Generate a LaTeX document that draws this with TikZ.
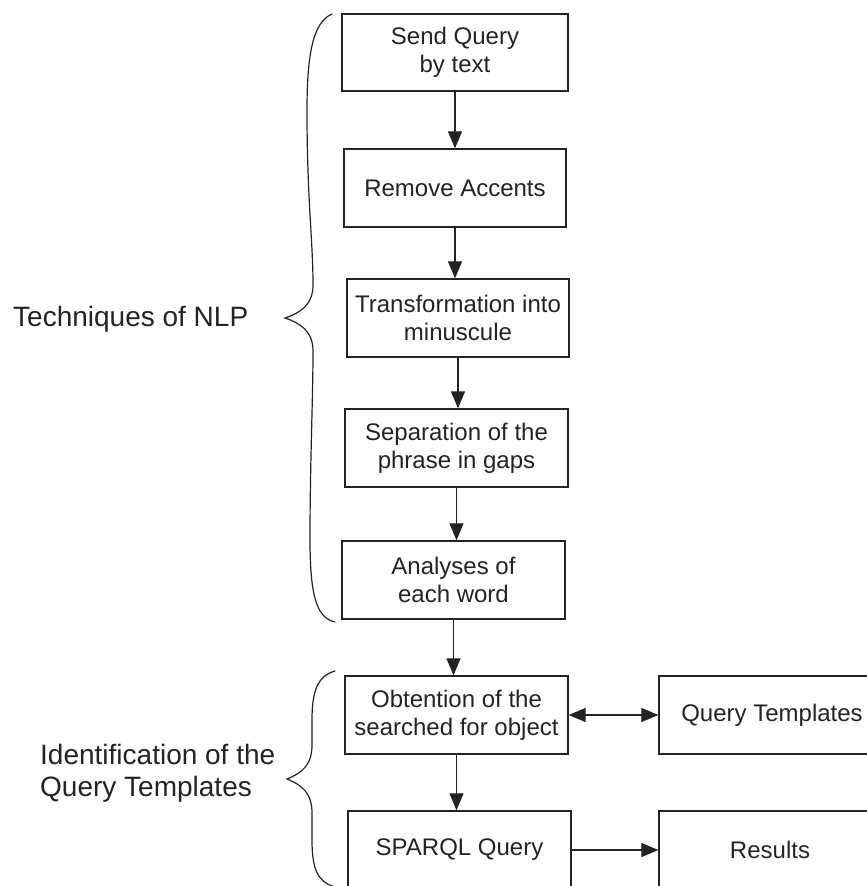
\documentclass[tikz,border=0pt]{standalone}
\usepackage{fontspec}
\setmainfont{Liberation Sans}
\usetikzlibrary{arrows.meta}
\definecolor{ink}{RGB}{35,35,35}
\begin{document}
\begin{tikzpicture}[x=1pt,y=-1pt,
  stepbox/.style={draw=ink, line width=1.3pt, text=ink, align=center,
    minimum width=223pt, minimum height=78pt, inner sep=0pt,
    font=\fontsize{24}{28}\selectfont},
  sidelabel/.style={text=ink, inner sep=0pt, font=\fontsize{28}{32}\selectfont},
  flow/.style={draw=ink, line width=1.2pt, -{Triangle[length=17pt,width=14pt]}},
  twoway/.style={draw=ink, line width=1.2pt,
    {Triangle[length=17pt,width=14pt]}-{Triangle[length=17pt,width=14pt]}},
  bracket/.style={draw=ink, line width=1.2pt, line cap=round}]
\clip (0,0) rectangle (867,886);

% processing chain
\node[stepbox, minimum width=226pt, minimum height=77pt] (send) at (455,52.5) {Send Query\\by text};
\node[stepbox, minimum width=222pt] (accents) at (455,188) {Remove Accents};
\node[stepbox, minimum width=222pt] (lower) at (458,318) {Transformation into\\minuscule};
\node[stepbox] (split) at (456.5,448) {Separation of the\\phrase in gaps};
\node[stepbox] (words) at (453.5,580) {Analyses of\\each word};
\node[stepbox] (object) at (456.5,715) {Obtention of the\\searched for object};
\node[stepbox] (sparql) at (459.5,850) {SPARQL Query};
\node[stepbox, minimum width=226pt] (templates) at (772,715) {Query Templates};
\node[stepbox, minimum width=222pt] (results) at (770,850) {Results};

% connectors
\draw[flow] (send.south) -- (send.south |- accents.north);
\draw[flow] (accents.south) -- (accents.south |- lower.north);
\draw[flow] (lower.south) -- (lower.south |- split.north);
\draw[flow] (split.south) -- (split.south |- words.north);
\draw[flow] (words.south) -- (words.south |- object.north);
\draw[flow] (object.south) -- (object.south |- sparql.north);
\draw[twoway] (object.east) -- (object.east -| templates.west);
\draw[flow] (sparql.east) -- (sparql.east -| results.west);

% grouping braces
\draw[bracket] (332,14) .. controls (314,22) and (307,50) .. (307,110)
  .. controls (307,200) and (313,240) .. (313,285)
  .. controls (313,305) and (300,313) .. (285,318)
  .. controls (300,323) and (313,331) .. (313,351)
  .. controls (313,400) and (310,460) .. (310,540)
  .. controls (310,600) and (318,618) .. (335,622);
\draw[bracket] (335,671) .. controls (318,676) and (312,690) .. (312,720)
  -- (312,745)
  .. controls (312,765) and (302,773) .. (287,779)
  .. controls (302,785) and (312,793) .. (312,813)
  -- (312,840)
  .. controls (312,870) and (318,882) .. (335,887);

% group labels
\node[sidelabel, anchor=base west] (nlp) at (13,326) {Techniques of NLP};
\node[sidelabel, anchor=base west] (ident1) at (40,764) {Identification of the};
\node[sidelabel, anchor=base west] (ident2) at (40,796) {Query Templates};
\end{tikzpicture}
\end{document}
